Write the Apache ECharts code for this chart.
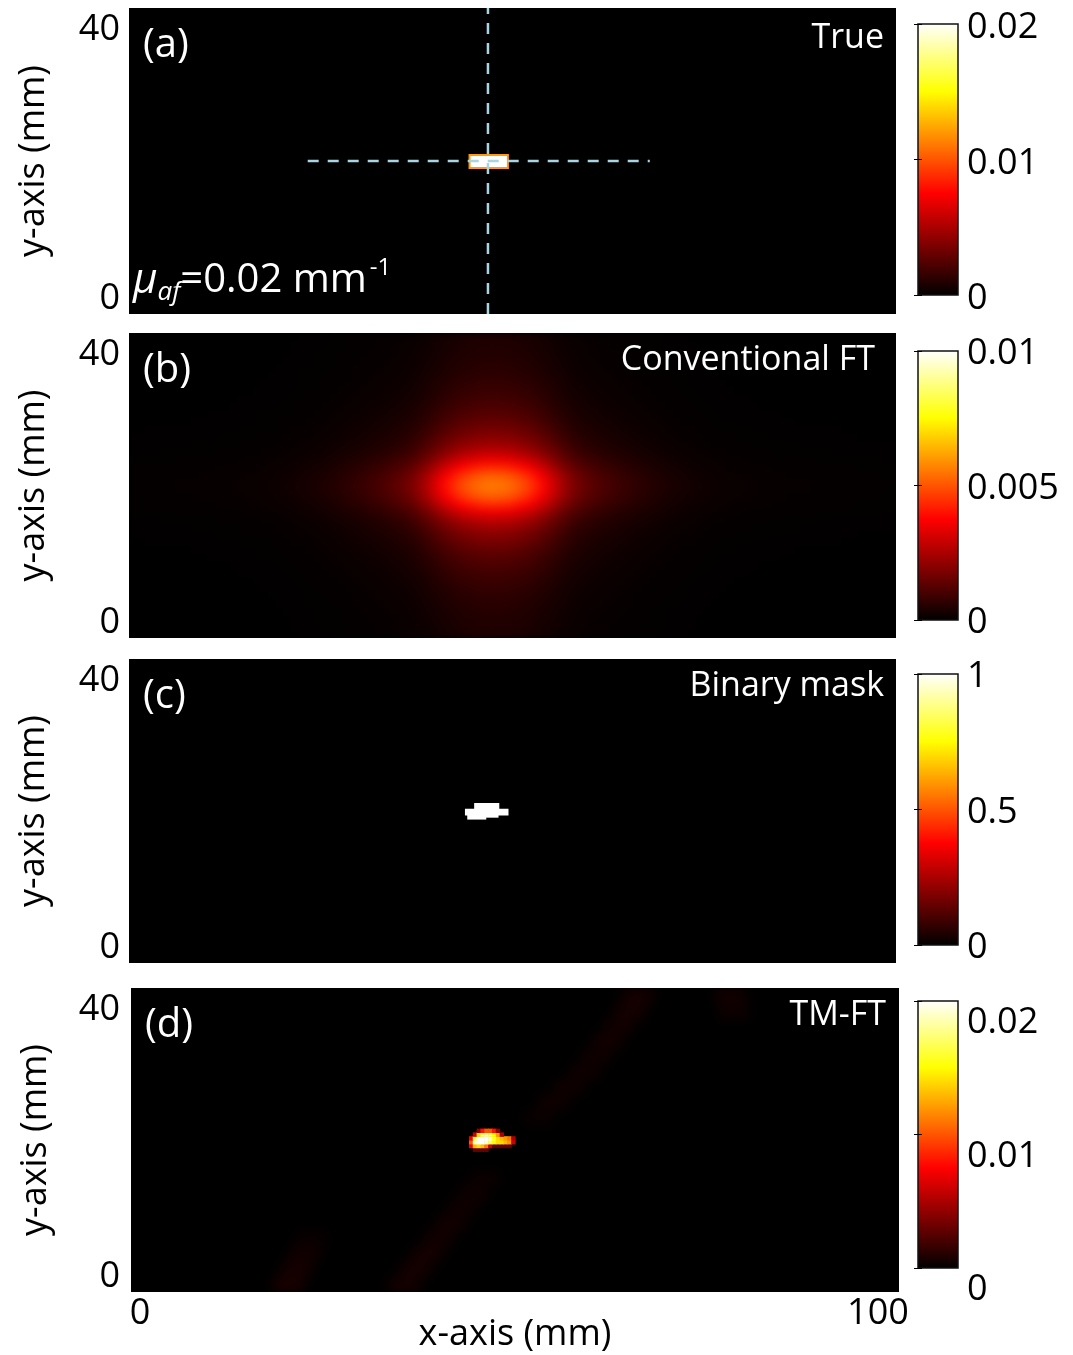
<!DOCTYPE html>
<html><head><meta charset="utf-8">
<script src="https://cdn.jsdelivr.net/npm/echarts@6/dist/echarts.min.js"></script>
<style>
html,body{margin:0;padding:0;background:#fff}
#wrap{position:relative;width:1073px;height:1355px;overflow:hidden}
.layer{position:absolute;left:0;top:0;width:1073px;height:1355px}
</style>
</head><body><div id="wrap"><div id="c" class="layer" style="z-index:10"></div></div>
<script>
// ---------- data ----------
const X_RANGE = [0, 100];          // x-axis (mm)
const Y_RANGE = [0, 40];           // y-axis (mm)
const PANEL_LABELS = ['(a)', '(b)', '(c)', '(d)'];
const PANEL_TITLES = ['True', 'Conventional FT', 'Binary mask', 'TM-FT'];
const CBAR_MAX = [0.02, 0.01, 1, 0.02];

// (a) true inclusion: [x0, x1, y0, y1, value]
const TRUE_RECTS = [[44.4, 49.4, 19.1, 20.8, 0.02]];
const CROSS_H = [[23.3, 20], [67.9, 20]];
const CROSS_V = [[46.8, 0], [46.8, 40]];

// (b) conventional FT: peak value and relative profiles read along x (1 mm columns) and y (1 mm rows)
const CFT_PEAK = 0.0055;
const CFT_XPROFILE = [
  0.012,0.012,0.013,0.013,0.014,0.014,0.015,0.015,0.016,0.017,
  0.018,0.019,0.020,0.021,0.023,0.025,0.027,0.030,0.033,0.037,
  0.042,0.048,0.055,0.062,0.070,0.080,0.092,0.105,0.12,0.135,
  0.15,0.17,0.19,0.21,0.24,0.27,0.31,0.37,0.45,0.54,
  0.64,0.73,0.81,0.88,0.93,0.97,0.99,1.00,0.99,0.97,
  0.93,0.88,0.81,0.73,0.64,0.54,0.45,0.37,0.31,0.27,
  0.24,0.21,0.19,0.17,0.15,0.135,0.12,0.105,0.092,0.080,
  0.070,0.062,0.055,0.048,0.042,0.037,0.033,0.030,0.027,0.025,
  0.023,0.021,0.020,0.019,0.018,0.017,0.016,0.015,0.015,0.014,
  0.014,0.013,0.013,0.012,0.012,0.011,0.011,0.011,0.010,0.010
];
const CFT_YPROFILE = [
  0.080,0.085,0.092,0.100,0.110,0.122,0.137,0.155,0.175,0.200,
  0.230,0.265,0.310,0.360,0.425,0.51,0.63,0.78,0.915,0.99,
  0.99,0.915,0.78,0.63,0.51,0.425,0.360,0.310,0.265,0.230,
  0.200,0.175,0.155,0.137,0.122,0.110,0.100,0.092,0.085,0.080
];

// (c) binary mask runs: [x0, x1, y0, y1, value]
const MASK_RUNS = [
  [45.0, 48.2, 20.3, 21.05, 1],
  [43.8, 49.4, 19.5, 20.3, 1],
  [44.1, 46.5, 18.95, 19.5, 1],
  [46.5, 48.1, 19.2, 19.5, 1]
];

// (d) TM-FT reconstruction: 0.5 mm cells starting at (43.5, 18.5), rows from bottom
const TMFT_X0 = 43.5, TMFT_Y0 = 18.5, TMFT_CELL = 0.5;
const TMFT_ROWS = [
  [0,0,0.003,0.003,0.003,0.003,0,0,0,0,0,0,0],
  [0,0.007,0.013,0.014,0.013,0.011,0.006,0.003,0.003,0.003,0.003,0.003,0],
  [0,0.010,0.019,0.020,0.020,0.019,0.017,0.015,0.014,0.014,0.013,0.012,0.006],
  [0,0.007,0.016,0.020,0.020,0.020,0.019,0.016,0.014,0.013,0.012,0.011,0.005],
  [0,0,0.006,0.014,0.017,0.018,0.017,0.015,0.012,0.005,0,0,0],
  [0,0,0,0.004,0.008,0.010,0.010,0.008,0.004,0,0,0,0]
];
// faint artefact streaks in (d): [x centre, y centre, value]
const TMFT_STREAKS = [
  [20.5,1,0.0007],[21.5,3,0.0006],[22.5,5,0.0005],[23.5,7,0.0003],
  [35.5,1,0.0006],[37,3,0.0006],[38.5,5,0.0006],[40,7,0.0005],[41.5,9,0.0005],[43,11,0.0004],
  [44.5,13,0.0004],[46,15,0.0003],[53,23,0.0003],[55,25,0.0004],[57,27,0.0004],[59,29,0.0004],
  [60.5,31,0.0004],[62,33,0.0005],[63.5,35,0.0005],[65,37,0.0006],[66,39,0.0006],
  [78,39,0.0005],[78.5,37,0.0004]
];

// ---------- styling ----------
const HOT = ['#000000','#550000','#aa0000','#ff0000','#ff5500','#ffaa00','#ffff00','#ffff80','#ffffff'];
const FONT = '"Open Sans", "Liberation Sans", sans-serif';
const PAGE_W = 1073, PAGE_H = 1355;
const PANELS = [
  {left:129, top:8,   width:767, height:306},
  {left:129, top:333, width:767, height:305},
  {left:129, top:659, width:767, height:304},
  {left:131, top:988, width:768, height:304}
];
const CBARS = [
  {left:918, top:24,   width:40, height:271, shift:8},
  {left:918, top:351,  width:40, height:269, shift:6},
  {left:918, top:674,  width:40, height:271, shift:6},
  {left:918, top:1001, width:40, height:267, shift:44}
];

// ---------- build cell tables ----------
const cftData = [];
CFT_XPROFILE.forEach((fx, i) => {
  CFT_YPROFILE.forEach((fy, j) => {
    cftData.push([i, i + 1, j, j + 1, CFT_PEAK * fx * fy]);
  });
});
const tmftData = [];
TMFT_ROWS.forEach((row, j) => row.forEach((v, i) => {
  if (v > 0) tmftData.push([TMFT_X0 + i * TMFT_CELL, TMFT_X0 + (i + 1) * TMFT_CELL,
                            TMFT_Y0 + j * TMFT_CELL, TMFT_Y0 + (j + 1) * TMFT_CELL, v]);
}));
const streakData = TMFT_STREAKS.map(s => [s[0] - 2, s[0] + 2, s[1] - 1, s[1] + 1, s[2]]);

function cellRender(extra) {
  return function (params, api) {
    const p0 = api.coord([api.value(0), api.value(3)]);
    const p1 = api.coord([api.value(1), api.value(2)]);
    const st = Object.assign({fill: api.visual('color')}, extra || {});
    const pad = extra ? 0 : 0.6;
    return {type: 'rect', shape: {x: p0[0], y: p0[1], width: p1[0] - p0[0] + pad, height: p1[1] - p0[1] + pad}, style: st};
  };
}
function cellSeries(idx, data, extra) {
  return {type: 'custom', xAxisIndex: idx, yAxisIndex: idx, data: data, silent: true,
          encode: {x: [0, 1], y: [2, 3]}, renderItem: cellRender(extra), animation: false};
}
function hotMap(seriesIndex, max) {
  return {type: 'continuous', show: false, seriesIndex: seriesIndex, dimension: 4, min: 0, max: max,
          inRange: {color: HOT}};
}

// ---------- soft (blurred) image layers for panels (b) and (d) ----------
function makeLayer(panelIdx, data, max, blurPx) {
  const p = PANELS[panelIdx];
  const div = document.createElement('div');
  div.className = 'layer';
  div.style.zIndex = 1;
  div.style.filter = 'blur(' + blurPx + 'px)';
  div.style.clipPath = 'inset(' + p.top + 'px ' + (PAGE_W - p.left - p.width) + 'px ' +
                       (PAGE_H - p.top - p.height) + 'px ' + p.left + 'px)';
  document.getElementById('wrap').appendChild(div);
  const ch = echarts.init(div, null, {renderer: 'canvas'});
  ch.setOption({
    animation: false, backgroundColor: '#000',
    grid: Object.assign({show: false, outerBoundsMode: 'none'}, p),
    xAxis: {type: 'value', min: X_RANGE[0], max: X_RANGE[1], show: false},
    yAxis: {type: 'value', min: Y_RANGE[0], max: Y_RANGE[1], show: false},
    visualMap: hotMap(0, max),
    series: [cellSeries(0, data)]
  });
}
makeLayer(1, cftData, CBAR_MAX[1], 3.5);
makeLayer(3, streakData, CBAR_MAX[3], 6);

// ---------- main chart ----------
const grids = [], xAxes = [], yAxes = [];
PANELS.forEach((p, i) => {
  const soft = i === 1 || i === 3;
  grids.push(Object.assign({show: !soft, backgroundColor: '#000', borderWidth: 0, outerBoundsMode: 'none'}, p));
  const last = i === PANELS.length - 1;
  xAxes.push({
    type: 'value', gridIndex: i, min: X_RANGE[0], max: X_RANGE[1], interval: X_RANGE[1] - X_RANGE[0],
    axisLine: {show: false}, axisTick: {show: false}, splitLine: {show: false},
    axisLabel: {show: last, margin: 4, color: '#000', fontFamily: FONT, fontSize: 36,
      formatter: v => v === X_RANGE[0] ? '{l|' + v + '}' : '{r|' + v + '}',
      rich: {l: {fontFamily: FONT, fontSize: 36, color: '#000', padding: [0, 0, 0, 18]},
             r: {fontFamily: FONT, fontSize: 36, color: '#000', padding: [0, 42, 0, 0]}}},
    name: last ? 'x-axis (mm)' : '', nameLocation: 'middle', nameGap: 25, nameMoveOverlap: false,
    nameTextStyle: {fontFamily: FONT, fontSize: 36, color: '#000'}
  });
  yAxes.push({
    type: 'value', gridIndex: i, min: Y_RANGE[0], max: Y_RANGE[1], interval: Y_RANGE[1] - Y_RANGE[0],
    axisLine: {show: false}, axisTick: {show: false}, splitLine: {show: false},
    axisLabel: {margin: last ? 11 : 9, color: '#000', fontFamily: FONT, fontSize: 36,
      formatter: v => v === Y_RANGE[1] ? '{t|' + v + '}' : '{b|' + v + '}',
      rich: {t: {fontFamily: FONT, fontSize: 36, color: '#000', padding: [44, 0, 0, 0]},
             b: {fontFamily: FONT, fontSize: 36, color: '#000', padding: [0, 0, 30, 0]}}},
    name: 'y-axis (mm)', nameLocation: 'middle', nameGap: 77, nameMoveOverlap: false,
    nameTextStyle: {fontFamily: FONT, fontSize: 36, color: '#000'}
  });
});
const gradient = {type: 'linear', x: 0, y: 1, x2: 0, y2: 0,
  colorStops: HOT.map((c, k) => ({offset: k / (HOT.length - 1), color: c}))};
CBARS.forEach((c, i) => {
  const gi = PANELS.length + i;
  grids.push({left: c.left, top: c.top, width: c.width, height: c.height, show: true, outerBoundsMode: 'none',
              backgroundColor: gradient, borderColor: '#111', borderWidth: 1.5});
  xAxes.push({type: 'value', gridIndex: gi, show: false});
  const rs = {fontFamily: FONT, fontSize: 36, color: '#000', padding: [c.shift, 0, 0, 0]};
  yAxes.push({type: 'value', gridIndex: gi, position: 'right', min: 0, max: CBAR_MAX[i], interval: CBAR_MAX[i] / 2,
    axisLine: {show: false}, splitLine: {show: false},
    axisTick: {show: true, inside: true, length: 4, lineStyle: {color: '#000', width: 1}},
    axisLabel: {margin: 9, formatter: v => '{s|' + v + '}', rich: {s: rs}}});
});
CBARS.forEach((c, i) => {
  const gi = PANELS.length + i;
  yAxes.push({type: 'value', gridIndex: gi, position: 'left', min: 0, max: CBAR_MAX[i], interval: CBAR_MAX[i] / 2,
    axisLine: {show: false}, splitLine: {show: false}, axisLabel: {show: false},
    axisTick: {show: true, inside: true, length: 4, lineStyle: {color: '#000', width: 1}}});
});

const series = [
  cellSeries(0, TRUE_RECTS, {stroke: '#ff9a10', lineWidth: 2}),
  {type: 'line', xAxisIndex: 0, yAxisIndex: 0, data: CROSS_H, showSymbol: false, silent: true, z: 5,
   lineStyle: {color: '#a9d4e2', width: 2.5, type: [11, 9]}, animation: false},
  {type: 'line', xAxisIndex: 0, yAxisIndex: 0, data: CROSS_V, showSymbol: false, silent: true, z: 5,
   lineStyle: {color: '#a9d4e2', width: 2.5, type: [11, 9]}, animation: false},
  cellSeries(2, MASK_RUNS),
  cellSeries(3, tmftData)
];
const visualMaps = [hotMap([0], CBAR_MAX[0]), hotMap([3], CBAR_MAX[2]), hotMap([4], CBAR_MAX[3])];

const graphics = [];
PANELS.forEach((p, i) => {
  graphics.push({type: 'text', x: p.left + 14, y: p.top + 38, z: 100,
    style: {text: PANEL_LABELS[i], fill: '#fff', font: '40px ' + FONT, verticalAlign: 'middle', align: 'left'}});
  graphics.push({type: 'text', x: p.left + (i === 1 ? 746 : 755), y: p.top + (i === 0 ? 30 : 27), z: 100,
    style: {text: PANEL_TITLES[i], fill: '#fff', font: '34px ' + FONT, verticalAlign: 'middle', align: 'right'}});
});
graphics.push({type: 'text', x: 133, y: 281, z: 100, style: {
  text: '{mu|μ}{sub|af}{t|=0.02 mm}{sup|-1}', fill: '#fff', verticalAlign: 'middle', align: 'left',
  rich: {
    mu: {fill: '#fff', fontFamily: FONT, fontStyle: 'italic', fontSize: 42, lineHeight: 50},
    sub: {fill: '#fff', fontFamily: FONT, fontStyle: 'italic', fontSize: 26, lineHeight: 50, verticalAlign: 'bottom', padding: [18, 0, 0, 0]},
    t: {fill: '#fff', fontFamily: FONT, fontSize: 40, lineHeight: 50},
    sup: {fill: '#fff', fontFamily: FONT, fontSize: 24, lineHeight: 50, verticalAlign: 'top', padding: [0, 0, 20, 3]}
  }}});

const chart = echarts.init(document.getElementById('c'), null, {renderer: 'canvas'});
chart.setOption({
  animation: false, backgroundColor: 'transparent',
  grid: grids, xAxis: xAxes, yAxis: yAxes, visualMap: visualMaps, series: series, graphic: graphics
});
</script></body></html>
